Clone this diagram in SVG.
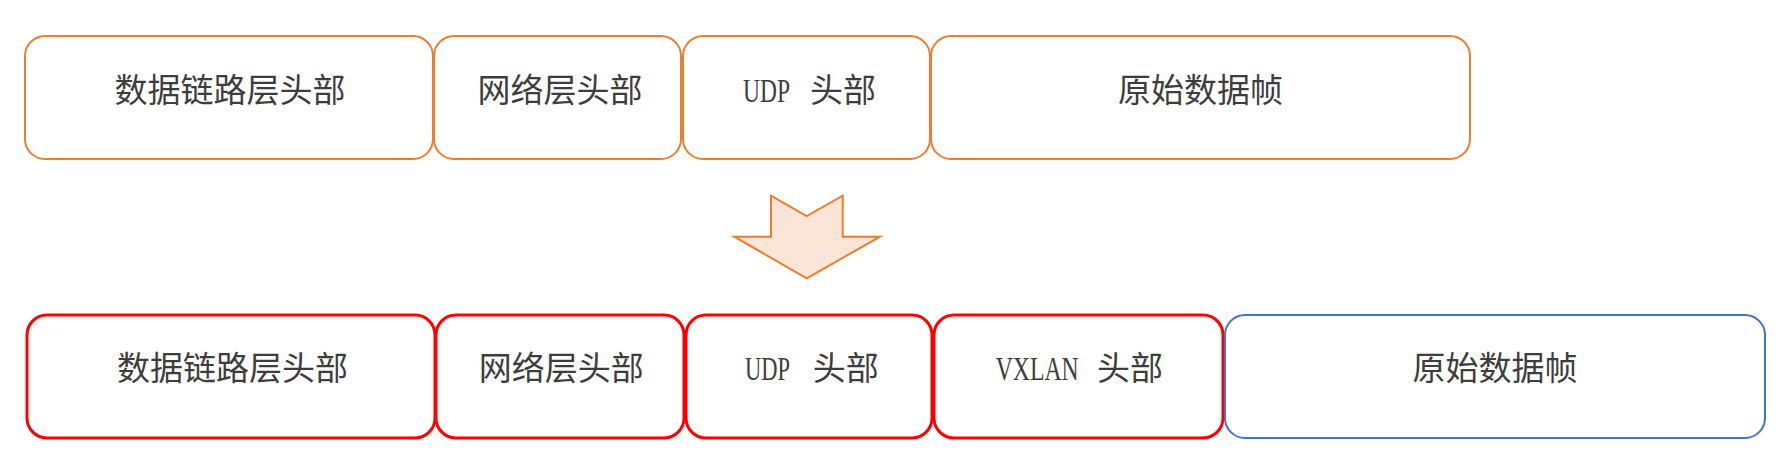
<svg xmlns="http://www.w3.org/2000/svg" width="1786" height="467" viewBox="0 0 1786 467">
<style>
.bg{fill:#ffffff}
.top{fill:#ffffff;stroke:#ED7D31;stroke-width:2}
.red{fill:#ffffff;stroke:#FF0000;stroke-width:3}
.blue{fill:#ffffff;stroke:#4472C4;stroke-width:2}
.lbl{font-family:"Noto Sans CJK SC","Noto Sans",sans-serif;font-size:33px;fill:#3d3d3d}
.lat{font-family:"Liberation Serif",serif}
.mid{text-anchor:middle}
.arrow{fill:#FBE5D6;stroke:#ED7D31;stroke-width:2;stroke-linejoin:miter}
</style>
<rect class="bg" x="0" y="0" width="1786" height="467"/>
<g id="top-row">
<g id="t1"><rect class="top" x="25" y="36" width="408" height="123" rx="20"/><text class="lbl mid" x="230" y="102">数据链路层头部</text></g>
<g id="t2"><rect class="top" x="434" y="36" width="247" height="123" rx="20"/><text class="lbl mid" x="560" y="102">网络层头部</text></g>
<g id="t3"><rect class="top" x="683" y="36" width="247" height="123" rx="20"/><text class="lbl" x="743" y="102"><tspan class="lat" textLength="47" lengthAdjust="spacingAndGlyphs">UDP</tspan> <tspan x="810">头部</tspan></text></g>
<g id="t4"><rect class="top" x="931" y="36" width="539" height="123" rx="20"/><text class="lbl mid" x="1200.5" y="102">原始数据帧</text></g>
</g>
<g id="connectors">
<polygon class="arrow" points="771,195.7 806.7,216 842.7,195.7 842.7,236.7 880,236.7 806.7,278.3 734.3,236.7 771,236.7"/>
</g>
<g id="bottom-row">
<g id="b1"><rect class="red" x="27" y="315" width="408" height="123" rx="20"/><text class="lbl mid" x="232.5" y="380">数据链路层头部</text></g>
<g id="b2"><rect class="red" x="436" y="315" width="248" height="123" rx="20"/><text class="lbl mid" x="561.3" y="380">网络层头部</text></g>
<g id="b3"><rect class="red" x="686" y="315" width="246" height="123" rx="20"/><text class="lbl" x="745" y="380"><tspan class="lat" textLength="45" lengthAdjust="spacingAndGlyphs">UDP</tspan> <tspan x="812.7">头部</tspan></text></g>
<g id="b4"><rect class="red" x="934" y="315" width="289" height="123" rx="20"/><text class="lbl" x="995.7" y="380"><tspan class="lat" textLength="83" lengthAdjust="spacingAndGlyphs">VXLAN</tspan> <tspan x="1097">头部</tspan></text></g>
<g id="b5"><rect class="blue" x="1225" y="315" width="540" height="123" rx="20"/><text class="lbl mid" x="1495" y="380">原始数据帧</text></g>
</g>
</svg>
